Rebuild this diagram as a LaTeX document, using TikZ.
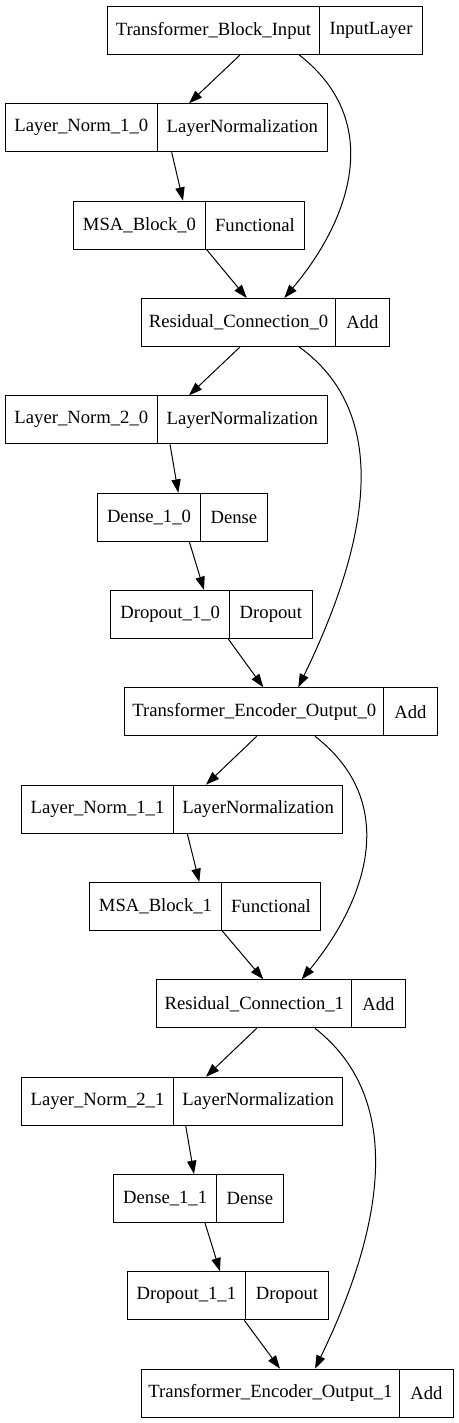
\documentclass[tikz,border=0pt]{standalone}
\usepackage{fontspec}
\setmainfont{Liberation Serif}
\usetikzlibrary{arrows.meta,calc}
\tikzset{
  cell/.style={draw=black, line width=0.75pt, minimum height=36pt, inner sep=0pt,
    anchor=north west, font=\fontsize{14pt}{16pt}\selectfont, text=black},
  arr/.style={draw=black, line width=0.75pt, -{Triangle[length=10pt,width=7pt]}}
}
\newcommand\recbox[7]{%
  \node[cell, minimum width={(#3-#2)*0.75pt}] (#1) at (#2,#5) {#6};
  \node[cell, minimum width={(#4-#3)*0.75pt}] (#1t) at (#3,#5) {#7};
}
\begin{document}
\begin{tikzpicture}[x=0.75pt,y=-0.75pt]
\useasboundingbox (0,0) rectangle (458,1423);
\recbox{tbi}{107}{319}{422}{6}{Transformer\_Block\_Input}{InputLayer}
\recbox{lna}{4.7}{157}{326.7}{103.3}{Layer\_Norm\_1\_0}{LayerNormalization}
\recbox{msa}{73}{205}{304}{200.7}{MSA\_Block\_0}{Functional}
\recbox{rca}{140.7}{335.3}{388.7}{298}{Residual\_Connection\_0}{Add}
\recbox{lnb}{4.7}{157}{326.7}{395.3}{Layer\_Norm\_2\_0}{LayerNormalization}
\recbox{dna}{97}{200}{266.7}{492.7}{Dense\_1\_0}{Dense}
\recbox{doa}{110.3}{229}{311.7}{590}{Dropout\_1\_0}{Dropout}
\recbox{teoa}{124.3}{383.3}{436.7}{687.3}{Transformer\_Encoder\_Output\_0}{Add}
\recbox{lnc}{21}{173}{342.3}{784.7}{Layer\_Norm\_1\_1}{LayerNormalization}
\recbox{msb}{89}{221}{320}{882}{MSA\_Block\_1}{Functional}
\recbox{rcb}{156.3}{351.3}{404.7}{979.3}{Residual\_Connection\_1}{Add}
\recbox{lnd}{21}{173}{342.3}{1076.7}{Layer\_Norm\_2\_1}{LayerNormalization}
\recbox{dnb}{113.3}{216}{282.7}{1174}{Dense\_1\_1}{Dense}
\recbox{dob}{126.7}{245}{328}{1271.3}{Dropout\_1\_1}{Dropout}
\recbox{teob}{140.7}{399}{452.7}{1368.7}{Transformer\_Encoder\_Output\_1}{Add}
% straight edges
\draw[arr] ($(tbi.south west)+(133,0)$) -- ($(lna.north west)+(184.3,0)$);
\draw[arr] ($(lna.south west)+(167,0)$) -- ($(msa.north west)+(110,0)$);
\draw[arr] ($(msa.south west)+(133.7,0)$) -- ($(rca.north west)+(106,0)$);
\draw[arr] ($(rca.south west)+(99.3,0)$) -- ($(lnb.north west)+(184.3,0)$);
\draw[arr] ($(lnb.south west)+(165.3,0)$) -- ($(dna.north west)+(81.3,0)$);
\draw[arr] ($(dna.south west)+(92.3,0)$) -- ($(doa.north west)+(93.7,0)$);
\draw[arr] ($(doa.south west)+(118,0)$) -- ($(teoa.north west)+(139,0)$);
\draw[arr] ($(teoa.south west)+(132.4,0)$) -- ($(lnc.north west)+(185,0)$);
\draw[arr] ($(lnc.south west)+(166.3,0)$) -- ($(msb.north west)+(110.3,0)$);
\draw[arr] ($(msb.south west)+(133.3,0)$) -- ($(rcb.north west)+(107,0)$);
\draw[arr] ($(rcb.south west)+(100.4,0)$) -- ($(lnd.north west)+(185,0)$);
\draw[arr] ($(lnd.south west)+(164.7,0)$) -- ($(dnb.north west)+(80.7,0)$);
\draw[arr] ($(dnb.south west)+(91.7,0)$) -- ($(dob.north west)+(93.3,0)$);
\draw[arr] ($(dob.south west)+(117.6,0)$) -- ($(teob.north west)+(139.3,0)$);
% residual curves
\draw[arr] ($(tbi.south west)+(192.3,0)$) .. controls (385,122) and (350,220) .. ($(rca.north west)+(143.6,0)$);
\draw[arr] ($(rca.south west)+(158.6,0)$) .. controls (400,420) and (360,560) .. ($(teoa.north west)+(174,0)$);
\draw[arr] ($(teoa.south west)+(190.7,0)$) .. controls (401,803) and (366,901) .. ($(rcb.north west)+(145.4,0)$);
\draw[arr] ($(rcb.south west)+(158.7,0)$) .. controls (413,1105) and (375,1245) .. ($(teob.north west)+(174.3,0)$);
\end{tikzpicture}
\end{document}
